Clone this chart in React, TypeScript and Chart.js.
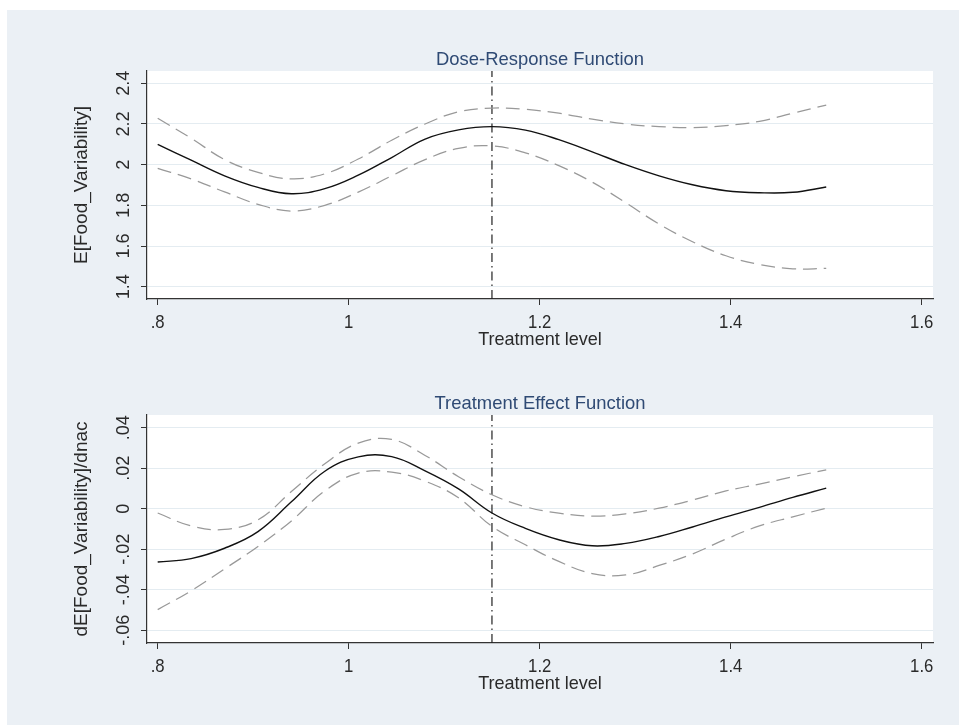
import React, { useEffect, useRef } from 'react';
import { Chart, registerables } from 'chart.js';

Chart.register(...registerables);

// ---------- data ----------
const treatment = [0.8, 0.835, 0.87, 0.905, 0.94, 0.975, 1.01, 1.045, 1.08, 1.115, 1.15, 1.185, 1.22, 1.255, 1.29, 1.325, 1.36, 1.395, 1.43, 1.465, 1.5];

const drfEstimate = [2.1, 2.022, 1.945, 1.888, 1.857, 1.882, 1.948, 2.035, 2.126, 2.171, 2.187, 2.17, 2.123, 2.063, 2.0, 1.945, 1.901, 1.872, 1.862, 1.864, 1.89];
const drfUpper = [2.228, 2.13, 2.025, 1.962, 1.93, 1.955, 2.028, 2.12, 2.2, 2.26, 2.278, 2.272, 2.253, 2.224, 2.2, 2.187, 2.182, 2.192, 2.213, 2.253, 2.293];
const drfLower = [1.982, 1.93, 1.866, 1.805, 1.772, 1.8, 1.865, 1.945, 2.025, 2.08, 2.092, 2.058, 1.995, 1.914, 1.813, 1.708, 1.621, 1.552, 1.509, 1.488, 1.49];

const tefEstimate = [-0.0263, -0.0246, -0.0195, -0.0113, 0.0034, 0.0185, 0.0256, 0.0257, 0.0187, 0.0098, -0.0021, -0.0097, -0.0153, -0.0183, -0.0171, -0.0137, -0.009, -0.004, 0.0007, 0.0056, 0.0102];
const tefUpper = [-0.0021, -0.0085, -0.0102, -0.0055, 0.0085, 0.0222, 0.0324, 0.0342, 0.0263, 0.0158, 0.0069, 0.001, -0.0022, -0.0036, -0.0025, 0.0003, 0.0043, 0.0088, 0.0122, 0.0158, 0.0192];
const tefLower = [-0.0498, -0.0405, -0.0297, -0.0186, -0.006, 0.0088, 0.0176, 0.0181, 0.0136, 0.0054, -0.0087, -0.0178, -0.026, -0.032, -0.0327, -0.028, -0.0223, -0.015, -0.0085, -0.004, 0.0003];

const referenceLevel = 1.15;

const xTicks = [0.8, 1.0, 1.2, 1.4, 1.6];
const xTickLabels = ['.8', '1', '1.2', '1.4', '1.6'];
const xRange = [0.7888, 1.6118];

const drfYTicks = [1.4, 1.6, 1.8, 2.0, 2.2, 2.4];
const drfYTickLabels = ['1.4', '1.6', '1.8', '2', '2.2', '2.4'];
const drfYRange = [1.3395, 2.4605];

const tefYTicks = [-0.06, -0.04, -0.02, 0, 0.02, 0.04];
const tefYTickLabels = ['-.06', '-.04', '-.02', '0', '.02', '.04'];
const tefYRange = [-0.06627, 0.04627];

const xTitle = 'Treatment level';

// ---------- styling ----------
const FONT = '"Liberation Sans", Arial, Helvetica, sans-serif';
const TITLE_COLOR = '#2f4a74';
const TEXT_COLOR = '#2a2a2a';
const AXIS_COLOR = '#333333';
const GRID_COLOR = '#e4ecf1';

function drawText(ctx: CanvasRenderingContext2D, text: string, x: number, y: number, opts: { size: number; color: string; sx: number; rot?: number }) {
  ctx.save();
  ctx.translate(x, y);
  if (opts.rot) ctx.rotate(opts.rot);
  ctx.scale(opts.sx, 1);
  ctx.font = `${opts.size}px ${FONT}`;
  ctx.fillStyle = opts.color;
  ctx.textAlign = 'center';
  ctx.textBaseline = 'alphabetic';
  ctx.fillText(text, 0, 0);
  ctx.restore();
}

interface Panel {
  title: string;
  yTitle: string;
  est: number[];
  upper: number[];
  lower: number[];
  yTicks: number[];
  yTickLabels: string[];
  yRange: number[];
  padTop: number;
  xAxisHeight: number;
}

function makeChart(canvas: HTMLCanvasElement, p: Panel) {
  const toXY = (arr: number[]) => arr.map((v, i) => ({ x: treatment[i], y: v }));
  const lineBase = { pointRadius: 0, tension: 0.4, fill: false };

  const decor = {
    id: 'panelDecor',
    beforeDraw(chart: any) {
      const { ctx, chartArea: a } = chart;
      ctx.save();
      ctx.fillStyle = '#ffffff';
      ctx.fillRect(a.left, a.top, a.right - a.left, a.bottom - a.top);
      ctx.restore();
    },
    afterDraw(chart: any) {
      const { ctx, chartArea: a } = chart;
      const xs = chart.scales.x;
      const ys = chart.scales.y;
      const cx = (a.left + a.right) / 2;
      const cy = (a.top + a.bottom) / 2;
      drawText(ctx, p.title, cx, a.top - 6, { size: 19, color: TITLE_COLOR, sx: 0.97 });
      xTicks.forEach((v, i) => {
        drawText(ctx, xTickLabels[i], xs.getPixelForValue(v), a.bottom + 28.5, { size: 19, color: TEXT_COLOR, sx: 0.88 });
      });
      drawText(ctx, xTitle, cx, a.bottom + 46, { size: 19, color: TEXT_COLOR, sx: 0.95 });
      p.yTicks.forEach((v, i) => {
        drawText(ctx, p.yTickLabels[i], a.left - 18.5, ys.getPixelForValue(v), { size: 19, color: TEXT_COLOR, sx: 0.95, rot: -Math.PI / 2 });
      });
      drawText(ctx, p.yTitle, a.left - 60.3, cy, { size: 19, color: TEXT_COLOR, sx: 1, rot: -Math.PI / 2 });
    },
  };

  return new Chart(canvas, {
    type: 'line',
    data: {
      datasets: [
        { ...lineBase, label: 'upper', data: toXY(p.upper), borderColor: '#999999', borderWidth: 1.25, borderDash: [14, 7] },
        { ...lineBase, label: 'lower', data: toXY(p.lower), borderColor: '#999999', borderWidth: 1.25, borderDash: [14, 7] },
        { ...lineBase, label: 'estimate', data: toXY(p.est), borderColor: '#111111', borderWidth: 1.4 },
        {
          label: 'reference',
          data: [{ x: referenceLevel, y: p.yRange[0] }, { x: referenceLevel, y: p.yRange[1] }],
          borderColor: '#222222',
          borderWidth: 1.2,
          borderDash: [9, 4, 1.5, 4],
          pointRadius: 0,
          fill: false,
        },
      ],
    },
    options: {
      animation: false,
      responsive: false,
      maintainAspectRatio: false,
      layout: { padding: { left: 0, right: 26, top: p.padTop, bottom: 0 } },
      plugins: { legend: { display: false }, title: { display: false }, tooltip: { enabled: false } },
      scales: {
        x: {
          type: 'linear',
          min: xRange[0],
          max: xRange[1],
          afterBuildTicks: (s: any) => { s.ticks = xTicks.map((v) => ({ value: v })); },
          afterFit: (s: any) => { s.height = p.xAxisHeight; },
          ticks: { display: false },
          grid: { display: true, drawOnChartArea: false, drawTicks: true, tickLength: 6, tickColor: AXIS_COLOR, color: GRID_COLOR },
          border: { display: true, color: AXIS_COLOR, width: 1.2 },
        },
        y: {
          type: 'linear',
          min: p.yRange[0],
          max: p.yRange[1],
          afterBuildTicks: (s: any) => { s.ticks = p.yTicks.map((v) => ({ value: v })); },
          afterFit: (s: any) => { s.width = 147; },
          ticks: { display: false },
          grid: { display: true, drawOnChartArea: true, drawTicks: true, tickLength: 6, tickColor: AXIS_COLOR, color: GRID_COLOR, lineWidth: 1 },
          border: { display: true, color: AXIS_COLOR, width: 1.2 },
        },
      },
    },
    plugins: [decor],
  } as any);
}

export default function App() {
  const topRef = useRef<HTMLCanvasElement>(null);
  const botRef = useRef<HTMLCanvasElement>(null);

  useEffect(() => {
    const c1 = makeChart(topRef.current!, {
      title: 'Dose-Response Function',
      yTitle: 'E[Food_Variability]',
      est: drfEstimate,
      upper: drfUpper,
      lower: drfLower,
      yTicks: drfYTicks,
      yTickLabels: drfYTickLabels,
      yRange: drfYRange,
      padTop: 71,
      xAxisHeight: 61,
    });
    const c2 = makeChart(botRef.current!, {
      title: 'Treatment Effect Function',
      yTitle: 'dE[Food_Variability]/dnac',
      est: tefEstimate,
      upper: tefUpper,
      lower: tefLower,
      yTicks: tefYTicks,
      yTickLabels: tefYTickLabels,
      yRange: tefYRange,
      padTop: 55,
      xAxisHeight: 82,
    });
    return () => { c1.destroy(); c2.destroy(); };
  }, []);

  return (
    <div style={{ position: 'absolute', left: 0, top: 0, width: 959, height: 725, background: '#ffffff', overflow: 'hidden' }}>
      <div style={{ position: 'absolute', left: 7, top: 10, right: 0, bottom: 0, background: '#ebf0f5' }} />
      <canvas ref={topRef} width={959} height={360} style={{ position: 'absolute', left: 0, top: 0, width: 959, height: 360 }} />
      <canvas ref={botRef} width={959} height={365} style={{ position: 'absolute', left: 0, top: 360, width: 959, height: 365 }} />
    </div>
  );
}
